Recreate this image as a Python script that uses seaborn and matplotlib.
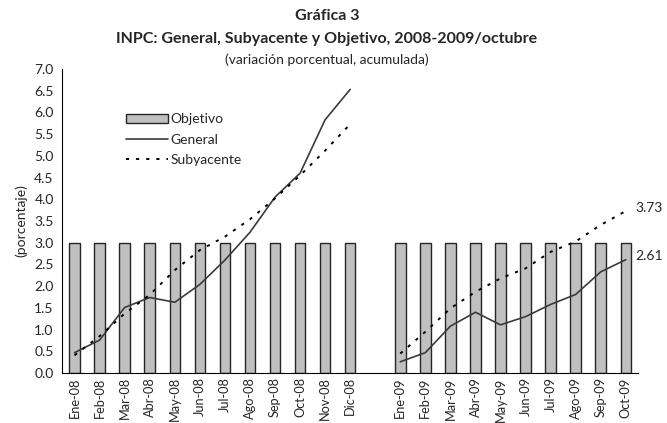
# INPC chart: General, Subyacente y Objetivo 2008-2009/octubre
import numpy as np
import pandas as pd
import matplotlib
matplotlib.use("Agg")
import matplotlib.pyplot as plt
from matplotlib.patches import Patch
from matplotlib.lines import Line2D
import seaborn as sns

# ---- data ----
meses_08 = ["Ene-08", "Feb-08", "Mar-08", "Abr-08", "May-08", "Jun-08",
            "Jul-08", "Ago-08", "Sep-08", "Oct-08", "Nov-08", "Dic-08"]
meses_09 = ["Ene-09", "Feb-09", "Mar-09", "Abr-09", "May-09", "Jun-09",
            "Jul-09", "Ago-09", "Sep-09", "Oct-09"]

general_08 = [0.47, 0.76, 1.51, 1.74, 1.63, 2.04, 2.60, 3.24, 4.05, 4.60, 5.83, 6.53]
general_09 = [0.26, 0.47, 1.08, 1.40, 1.11, 1.30, 1.58, 1.81, 2.33, 2.61]
subyacente_08 = [0.41, 0.85, 1.37, 1.80, 2.37, 2.83, 3.14, 3.54, 4.02, 4.55, 5.12, 5.73]
subyacente_09 = [0.45, 0.95, 1.49, 1.87, 2.18, 2.41, 2.79, 3.03, 3.41, 3.73]
objetivo = 3.0

# one empty slot between the two years
categorias = meses_08 + [" "] + meses_09
obj_vals = [objetivo] * len(meses_08) + [np.nan] + [objetivo] * len(meses_09)
df = pd.DataFrame({"mes": categorias, "objetivo": obj_vals,
                   "pos": np.arange(len(categorias))})

# ---- figure ----
sns.set_style("white")
plt.rcParams["font.family"] = ["Lato", "DejaVu Sans"]

fig = plt.figure(figsize=(6.67, 4.23), dpi=100)
ax = fig.add_axes([0.093, 0.118, 0.864, 0.719])

sns.barplot(data=df, x="mes", y="objetivo", order=categorias, color="#c0c0c0",
            edgecolor="#262626", linewidth=1.0, width=0.42, saturation=1, ax=ax)

pos_08 = df["pos"][:12].to_numpy()
pos_09 = df["pos"][13:].to_numpy()
for pos, gen, sub in [(pos_08, general_08, subyacente_08),
                      (pos_09, general_09, subyacente_09)]:
    sns.lineplot(x=pos, y=gen, color="#3a3a3a", linewidth=1.2, ax=ax)
    sns.lineplot(x=pos, y=sub, color="black", linewidth=1.4,
                 linestyle=(0, (1.6, 3.6)), ax=ax)

# end labels
ax.annotate(f"{subyacente_09[-1]:.2f}", (pos_09[-1], subyacente_09[-1]),
            xytext=(7, 2), textcoords="offset points", fontsize=10, va="center")
ax.annotate(f"{general_09[-1]:.2f}", (pos_09[-1], general_09[-1]),
            xytext=(7, 3), textcoords="offset points", fontsize=10, va="center")

# axes
ax.set_xlim(-0.5, len(categorias) - 0.5)
ax.set_ylim(0, 7)
ax.set_yticks(np.arange(0, 7.01, 0.5))
ax.set_yticklabels([f"{v:.1f}" for v in np.arange(0, 7.01, 0.5)], fontsize=10)
ax.set_xticks(df["pos"])
ax.set_xticklabels(categorias, rotation=90, fontsize=9.2)
ax.set_xticks(np.arange(-0.5, len(categorias)), minor=True)
ax.tick_params(axis="x", which="major", length=0, pad=3)
ax.tick_params(axis="x", which="minor", length=4, width=0.8, color="black", direction="out")
ax.tick_params(axis="y", length=4, width=0.8, color="black", direction="out", pad=2)
ax.set_xlabel("")
ax.set_ylabel("(porcentaje)", fontsize=10, labelpad=5)

for s in ["top", "right"]:
    ax.spines[s].set_visible(False)
for s in ["left", "bottom"]:
    ax.spines[s].set_color("black")
    ax.spines[s].set_linewidth(0.8)

handles = [Patch(facecolor="#c0c0c0", edgecolor="#262626", linewidth=1.0),
           Line2D([], [], color="#3a3a3a", linewidth=1.2),
           Line2D([], [], color="black", linewidth=1.4, linestyle=(0, (1.6, 3.6)))]
ax.legend(handles, ["Objetivo", "General", "Subyacente"], loc="upper left",
          bbox_to_anchor=(0.09, 0.895), frameon=False, fontsize=10,
          handlelength=3.0, handleheight=0.7, handletextpad=0.2, labelspacing=0.6)

# titles
fig.text(0.49, 0.962, "Gráfica 3", ha="center", va="center", fontsize=11.5, fontweight="bold")
fig.text(0.49, 0.908, "INPC: General, Subyacente y Objetivo, 2008-2009/octubre",
         ha="center", va="center", fontsize=11.5, fontweight="bold")
fig.text(0.49, 0.858, "(variación porcentual, acumulada)", ha="center", va="center", fontsize=10)

fig.savefig("out.png", dpi=100)
